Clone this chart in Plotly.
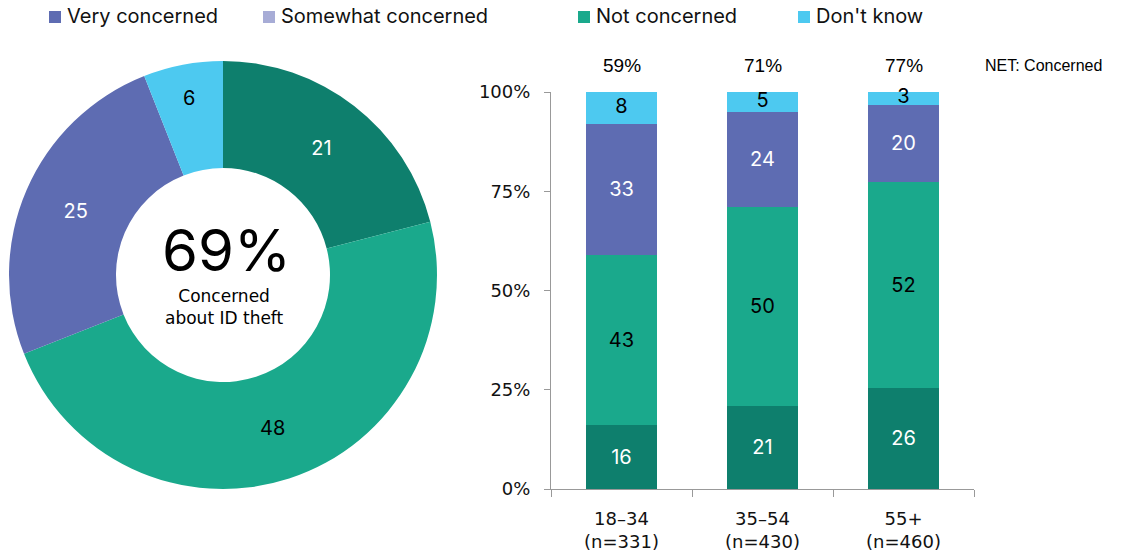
import plotly.graph_objects as go

# ---- data ----
donut_labels = ["Very concerned", "Somewhat concerned", "Not concerned", "Don't know"]
donut_values = [21, 48, 25, 6]
donut_colors = ["#0E7F6D", "#1AA98C", "#5E6CB2", "#4DC9F0"]
donut_text_colors = ["white", "black", "white", "black"]
center_value = "69%"
center_caption = "Concerned<br>about ID theft"

age_groups = ["18\u201334<br>(n=331)", "35\u201354<br>(n=430)", "55+<br>(n=460)"]
# bar heights as drawn (unrounded estimates)
very_concerned = [16, 21, 25.5]
somewhat_concerned = [43, 50, 51.8]
not_concerned = [33, 24, 19.5]
dont_know = [8, 5, 3.2]
# printed (rounded) labels
very_labels = [16, 21, 26]
somewhat_labels = [43, 50, 52]
not_labels = [33, 24, 20]
dont_know_labels = [8, 5, 3]
net_concerned = [59, 71, 77]

legend_names = ["Very concerned", "Somewhat concerned", "Not concerned", "Don't know"]
legend_colors = ["#5E6CB2", "#A7ACD6", "#1AA98C", "#4DC9F0"]
y_ticks = [0, 25, 50, 75, 100]
y_tick_text = ["0%", "25%", "50%", "75%", "100%"]

W, H = 1125, 558
FONT = "Inter"
WIDE = "DejaVu Sans"


def px(x):
    return x / W


def py(y):
    return 1 - y / H


fig = go.Figure()

fig.add_trace(go.Pie(
    labels=donut_labels, values=donut_values, hole=0.5, sort=False,
    direction="clockwise", rotation=0,
    marker=dict(colors=donut_colors, line=dict(width=0)),
    textinfo="value", textposition="inside", insidetextorientation="horizontal",
    textfont=dict(family=FONT, size=20, color=donut_text_colors),
    domain=dict(x=[px(8), px(438)], y=[py(489), py(61)]),
    showlegend=False, hoverinfo="label+value", automargin=False,
))

series = [
    ("Very concerned", very_concerned, very_labels, "#0E7F6D", "white"),
    ("Somewhat concerned", somewhat_concerned, somewhat_labels, "#1AA98C", "black"),
    ("Not concerned", not_concerned, not_labels, "#5E6CB2", "white"),
    ("Don't know", dont_know, None, "#4DC9F0", "black"),
]
for name, vals, labs, col, tcol in series:
    fig.add_trace(go.Bar(
        x=age_groups, y=vals, name=name, marker=dict(color=col, line=dict(width=0)),
        text=[str(v) for v in labs] if labs else None,
        textposition="inside" if labs else "none", insidetextanchor="middle",
        constraintext="none", cliponaxis=False, textangle=0,
        textfont=dict(family=FONT, size=20, color=tcol),
        width=0.5, showlegend=False, xaxis="x", yaxis="y",
    ))

# labels of the thin top segments (centred on the segment, allowed to overflow)
dk_mid = [v + s + n + d / 2 for v, s, n, d in
          zip(very_concerned, somewhat_concerned, not_concerned, dont_know)]
fig.add_trace(go.Scatter(
    x=age_groups, y=dk_mid, mode="text", text=[str(d) for d in dont_know_labels],
    textposition="middle center", cliponaxis=False,
    textfont=dict(family=FONT, size=20, color="black"),
    showlegend=False, hoverinfo="skip", xaxis="x", yaxis="y",
))

# NET concerned labels above bars
for g, n in zip(age_groups, net_concerned):
    fig.add_annotation(x=g, y=py(65), xref="x", yref="paper", xanchor="center",
                       yanchor="middle", text=f"{n}%", showarrow=False,
                       font=dict(family="Liberation Sans", size=19, color="black"))
fig.add_annotation(x=px(1043), y=py(65), xref="paper", yref="paper",
                   xanchor="center", yanchor="middle",
                   text="NET: Concerned", showarrow=False,
                   font=dict(family="Liberation Sans", size=16, color="black"))

# center text of donut
fig.add_annotation(x=px(226), y=py(250), xref="paper", yref="paper",
                   xanchor="center", yanchor="middle",
                   text=center_value, showarrow=False,
                   font=dict(family=FONT, size=58, color="black"))
fig.add_annotation(x=px(224), y=py(307), xref="paper", yref="paper",
                   xanchor="center", yanchor="middle",
                   text=center_caption, showarrow=False,
                   font=dict(family=WIDE, size=17, color="black"))

# legend (manual, as in reference)
legend_sq_x = [49, 263, 578, 798]
for name, col, sx in zip(legend_names, legend_colors, legend_sq_x):
    fig.add_shape(type="rect", xref="paper", yref="paper",
                  x0=px(sx), x1=px(sx + 12), y0=py(23), y1=py(11),
                  fillcolor=col, line=dict(width=0))
    fig.add_annotation(x=px(sx + 16), y=py(16), xref="paper", yref="paper",
                       text=name, showarrow=False, xanchor="left", yanchor="middle",
                       font=dict(family=FONT, size=20, color="#111111"))

fig.update_layout(
    template="none",
    width=W, height=H, margin=dict(l=0, r=0, t=0, b=0, pad=0, autoexpand=False),
    paper_bgcolor="white", plot_bgcolor="white",
    barmode="stack",
    xaxis=dict(domain=[px(551), px(974)], showline=True, linecolor="#999999", linewidth=1,
               ticks="outside", tickson="boundaries", ticklen=7, tickcolor="#999999",
               tickfont=dict(family=WIDE, size=18, color="#111111"), showgrid=False,
               zeroline=False, anchor="y", automargin=False, ticklabelstandoff=13),
    yaxis=dict(domain=[py(489), py(92)], range=[0, 100],
               tickmode="array", tickvals=y_ticks, ticktext=y_tick_text,
               showline=True, linecolor="#999999",
               linewidth=1, ticks="outside", ticklen=6, tickcolor="#999999",
               tickfont=dict(family=WIDE, size=18, color="#111111"), showgrid=False,
               zeroline=False, anchor="x", ticklabelstandoff=10, automargin=False),
    font=dict(family=FONT),
)

fig.write_html("out.html", config={"displayModeBar": False},
               post_script="document.body.style.margin='0px';")
